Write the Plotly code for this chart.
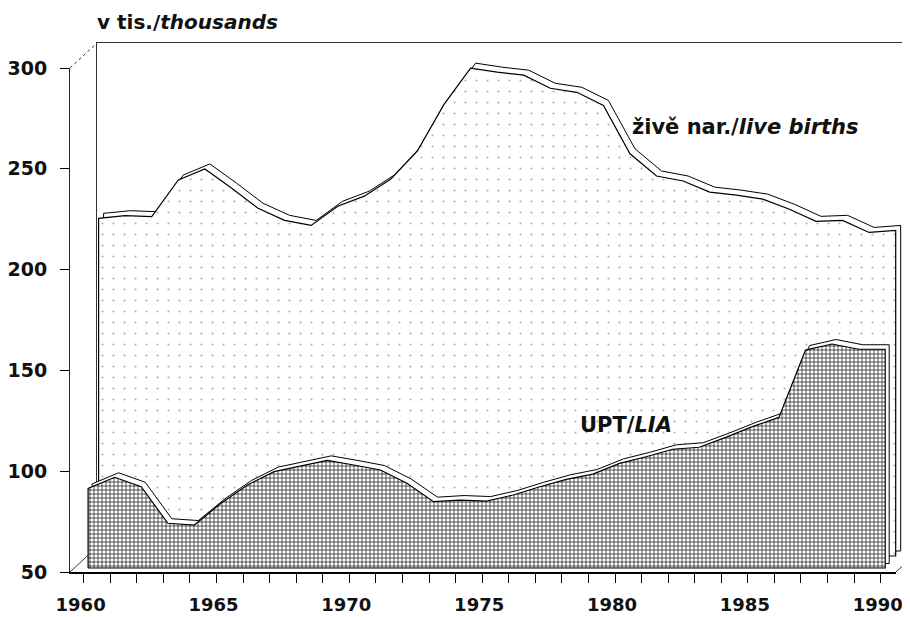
import plotly.graph_objects as go

# ---- data ----
years = list(range(1960, 1991))
live_births = [217.5, 218.8, 218.3, 236.5, 242.0, 232.5, 222.5, 216.5, 214.0, 223.5,
               228.5, 237.0, 251.0, 274.0, 292.0, 290.0, 288.5, 282.0, 280.0, 273.5,
               249.5, 238.5, 236.0, 230.5, 229.0, 227.0, 222.0, 216.0, 216.5, 210.5, 211.5]
upt_lia = [89.5, 95.0, 90.3, 72.2, 71.3, 82.1, 91.2, 97.8, 100.6, 103.4,
           101.1, 98.6, 92.0, 82.9, 83.7, 83.2, 86.2, 90.3, 94.0, 96.6,
           101.9, 105.2, 108.9, 109.9, 114.8, 120.1, 124.7, 158.1, 161.1, 158.5, 158.5]
y_tick_values = [50, 100, 150, 200, 250, 300]
x_label_years = [1960, 1965, 1970, 1975, 1980, 1985, 1990]
y_base = 50

# ---- geometry, in page pixels (the page body has an 8 px margin) ----
OFF = 8
FW, FH = 910 - OFF, 617 - OFF
X1960 = 83.6      # page px of 1960 on front axis
PPY = 26.57       # px per year
Y50 = 572.0       # page px of value 50 on front axis
PPV = 2.016       # px per unit (thousand)

FONT = "DejaVu Sans, Liberation Sans, Arial, sans-serif"


def px(x):
    return (x - OFF) / FW


def py(y):
    return 1 - (y - OFF) / FH


def xcfg(a, b, dx):
    return dict(domain=[px(a), px(b)],
                range=[1960 + (a - X1960 - dx) / PPY, 1960 + (b - X1960 - dx) / PPY],
                visible=False, fixedrange=True, automargin=False)


def ycfg(top, bot, dy):
    return dict(domain=[py(bot), py(top)],
                range=[50 + (Y50 + dy - bot) / PPV, 50 + (Y50 + dy - top) / PPV],
                visible=False, fixedrange=True, automargin=False)


def polygon(vals):
    xs = [years[0]] + years + [years[-1], years[0]]
    ys = [y_base] + vals + [y_base, y_base]
    return xs, ys


fig = go.Figure()

# 1: back wall (axis lines only)
fig.add_trace(go.Scatter(x=[], y=[], xaxis="x", yaxis="y", showlegend=False))
# 2: live births - back edge of top ribbon
bx, by = polygon(live_births)
fig.add_trace(go.Scatter(x=bx, y=by, xaxis="x2", yaxis="y2", mode="lines",
                         line=dict(color="black", width=1), showlegend=False,
                         hoverinfo="skip"))
# 3: live births - front face
fig.add_trace(go.Scatter(x=bx, y=by, xaxis="x3", yaxis="y3", mode="lines",
                         fill="toself",
                         fillpattern=dict(shape=".", fgcolor="#b0b0b0", bgcolor="white",
                                          size=11, solidity=0.03, fillmode="replace"),
                         line=dict(color="black", width=1.2), showlegend=False,
                         name="živě nar./live births"))
# 4: UPT - back edge of ribbon
ux, uy = polygon(upt_lia)
fig.add_trace(go.Scatter(x=ux, y=uy, xaxis="x4", yaxis="y4", mode="lines",
                         fill="toself", fillcolor="white",
                         line=dict(color="black", width=1), showlegend=False,
                         hoverinfo="skip"))
# 5: UPT - front face
fig.add_trace(go.Scatter(x=ux, y=uy, xaxis="x5", yaxis="y5", mode="lines",
                         fill="toself",
                         fillpattern=dict(shape="+", fgcolor="black", bgcolor="white",
                                          size=4, solidity=0.3, fillmode="replace"),
                         line=dict(color="black", width=1.2), showlegend=False,
                         name="UPT/LIA"))
# 6: front axes
fig.add_trace(go.Scatter(x=[], y=[], xaxis="x6", yaxis="y6", showlegend=False))

layout = dict(
    template="none",
    width=FW, height=FH,
    margin=dict(l=0, r=0, t=0, b=0, autoexpand=False),
    paper_bgcolor="white",
    plot_bgcolor="rgba(0,0,0,0)",
    font=dict(family=FONT, color="black"),
    showlegend=False,
)

# wall
wx = xcfg(97, 910, 27)
wy = ycfg(43, 547, -25)
wx.update(visible=True, showline=True, linecolor="#333333", linewidth=1, side="top",
          showticklabels=False, ticks="", showgrid=False, zeroline=False, anchor="y")
wy.update(visible=True, showline=True, linecolor="#333333", linewidth=1,
          showticklabels=False, ticks="", showgrid=False, zeroline=False, anchor="x")
layout["xaxis"] = wx
layout["yaxis"] = wy

layout["xaxis2"] = dict(xcfg(75, 910, 20), anchor="y2")
layout["yaxis2"] = dict(ycfg(20, 600, -21), anchor="x2")
layout["xaxis3"] = dict(xcfg(75, 910, 15), anchor="y3")
layout["yaxis3"] = dict(ycfg(20, 600, -16), anchor="x3")
layout["xaxis4"] = dict(xcfg(60, 910, 8.5), anchor="y4")
layout["yaxis4"] = dict(ycfg(20, 600, -8.5), anchor="x4")
layout["xaxis5"] = dict(xcfg(60, 910, 4.5), anchor="y5")
layout["yaxis5"] = dict(ycfg(20, 600, -4), anchor="x5")

# front axes with ticks and labels
fx = xcfg(70, 896, 0)
fx.update(visible=True, anchor="y6", showline=True, linecolor="black", linewidth=1.5,
          showgrid=False, zeroline=False,
          tickmode="array", tickvals=x_label_years, ticktext=[str(v) for v in x_label_years],
          ticks="outside", ticklen=9, tickwidth=1, tickcolor="black",
          minor=dict(dtick=1, tick0=1960, ticks="outside", ticklen=9, tickwidth=1,
                     tickcolor="black", showgrid=False),
          tickfont=dict(family=FONT, size=18, color="#111111", weight="bold"),
          ticklabelstandoff=7, ticklabelshift=-3)
fy = ycfg(68, 572, 0)
fy.update(visible=True, anchor="x6", showline=True, linecolor="#222222", linewidth=1.1,
          showgrid=False, zeroline=False,
          tickmode="array", tickvals=y_tick_values, ticktext=[str(v) for v in y_tick_values],
          ticks="outside", ticklen=9, tickwidth=1, tickcolor="black",
          tickfont=dict(family=FONT, size=19, color="#111111", weight="bold"),
          ticklabelstandoff=9)
layout["xaxis6"] = fx
layout["yaxis6"] = fy


# 3D frame edges
def pline(x0, y0, x1, y1, dash="solid", width=1, color="#333333"):
    return dict(type="line", xref="paper", yref="paper", layer="below",
                x0=px(x0), y0=py(y0), x1=px(x1), y1=py(y1),
                line=dict(color=color, width=width, dash=dash))


layout["shapes"] = [
    pline(70, 68, 97, 43, dash="dot"),
    pline(70, 572, 97, 547),
    pline(896, 572, 910, 559),
]

layout["annotations"] = [
    dict(xref="paper", yref="paper", x=px(95), y=py(22), xanchor="left", yanchor="middle",
         text="<b>v tis./<i>thousands</i></b>", showarrow=False,
         font=dict(family=FONT, size=20, color="#111111")),
    dict(xref="paper", yref="paper", x=px(630), y=py(127), xanchor="left", yanchor="middle",
         text="<b>živě nar./<i>live births</i></b>", showarrow=False,
         font=dict(family=FONT, size=21, color="#111111")),
    dict(xref="paper", yref="paper", x=px(578), y=py(425), xanchor="left", yanchor="middle",
         text="<b>UPT/<i>LIA</i></b>", showarrow=False,
         font=dict(family=FONT, size=21, color="#111111")),
]

fig.update_layout(**layout)
fig.write_html("out.html")
